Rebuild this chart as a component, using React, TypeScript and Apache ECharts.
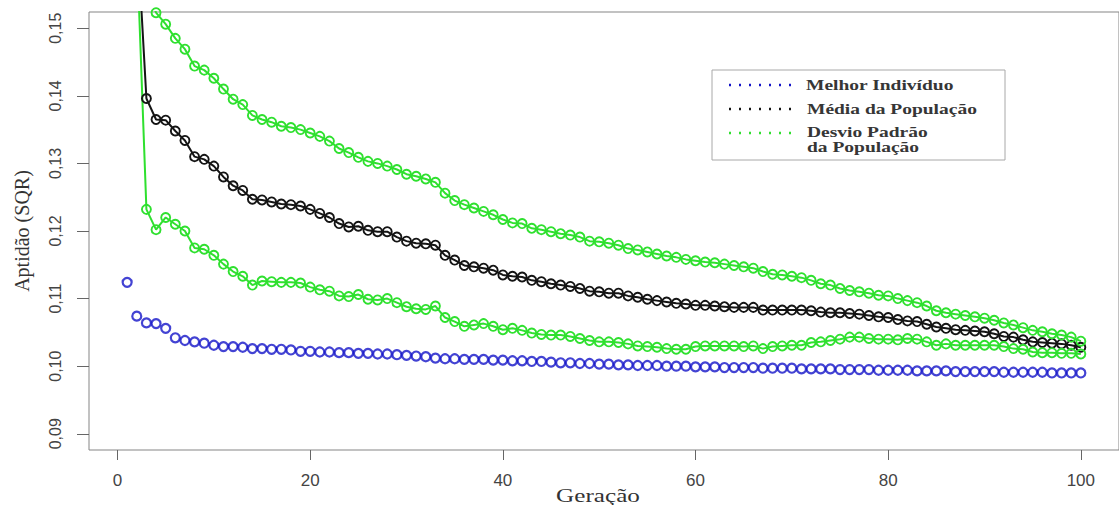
import React, { useEffect, useRef } from "react";
import * as echarts from "echarts";

// Generations 1..100 (x positions)
const generations: number[] = Array.from({ length: 100 }, (_, i) => i + 1);

const xTicks = [0, 20, 40, 60, 80, 100];
const yTicks = [0.09, 0.1, 0.11, 0.12, 0.13, 0.14, 0.15];

const melhor = [
  0.1124, 0.1074, 0.1064, 0.1063, 0.1056, 0.1042, 0.1038, 0.1036, 0.1034, 0.1031,
  0.1029, 0.1029, 0.1028, 0.1026, 0.1026, 0.1025, 0.1025, 0.1024, 0.1022, 0.1022,
  0.1021, 0.1021, 0.1020, 0.1020, 0.1019, 0.1019, 0.1018, 0.1018, 0.1017, 0.1016,
  0.1015, 0.1014, 0.1012, 0.1011, 0.1011, 0.1010, 0.1010, 0.1010, 0.1009, 0.1009,
  0.1008, 0.1008, 0.1007, 0.1007, 0.1006, 0.1005, 0.1005, 0.1004, 0.1004, 0.1003,
  0.1003, 0.1002, 0.1002, 0.1001, 0.1001, 0.1001, 0.1000, 0.1000, 0.1000, 0.0999,
  0.0999, 0.0999, 0.0998, 0.0998, 0.0998, 0.0998, 0.0997, 0.0997, 0.0997, 0.0997,
  0.0996, 0.0996, 0.0996, 0.0996, 0.0995, 0.0995, 0.0995, 0.0995, 0.0994, 0.0994,
  0.0994, 0.0994, 0.0993, 0.0993, 0.0993, 0.0993, 0.0992, 0.0992, 0.0992, 0.0992,
  0.0992, 0.0991, 0.0991, 0.0991, 0.0991, 0.0991, 0.0990, 0.0990, 0.0990, 0.0990,
];

const media = [
  0.1900, 0.1650, 0.1396, 0.1365, 0.1364, 0.1348, 0.1334, 0.1310, 0.1306, 0.1296,
  0.1280, 0.1267, 0.1260, 0.1247, 0.1246, 0.1243, 0.1240, 0.1239, 0.1237, 0.1232,
  0.1226, 0.1220, 0.1211, 0.1206, 0.1207, 0.1201, 0.1199, 0.1199, 0.1191, 0.1185,
  0.1182, 0.1181, 0.1179, 0.1164, 0.1157, 0.1149, 0.1147, 0.1145, 0.1142, 0.1135,
  0.1133, 0.1132, 0.1127, 0.1125, 0.1122, 0.1120, 0.1118, 0.1115, 0.1111, 0.1110,
  0.1108, 0.1108, 0.1104, 0.1102, 0.1099, 0.1097, 0.1095, 0.1093, 0.1092, 0.1090,
  0.1090, 0.1089, 0.1088, 0.1087, 0.1087, 0.1087, 0.1083, 0.1083, 0.1083, 0.1083,
  0.1083, 0.1082, 0.1080, 0.1079, 0.1079, 0.1078, 0.1077, 0.1075, 0.1073, 0.1072,
  0.1069, 0.1067, 0.1066, 0.1062, 0.1058, 0.1056, 0.1054, 0.1053, 0.1052, 0.1051,
  0.1048, 0.1044, 0.1043, 0.1039, 0.1036, 0.1035, 0.1034, 0.1033, 0.1031, 0.1028,
];

const desvioSup = [
  0.2100, 0.1680, 0.1560, 0.1523, 0.1506, 0.1485, 0.1469, 0.1444, 0.1438, 0.1426,
  0.1410, 0.1395, 0.1387, 0.1371, 0.1365, 0.1361, 0.1355, 0.1353, 0.1350, 0.1345,
  0.1340, 0.1333, 0.1322, 0.1316, 0.1309, 0.1303, 0.1300, 0.1296, 0.1291, 0.1284,
  0.1281, 0.1277, 0.1272, 0.1256, 0.1245, 0.1239, 0.1234, 0.1229, 0.1224, 0.1217,
  0.1212, 0.1211, 0.1204, 0.1202, 0.1199, 0.1196, 0.1194, 0.1191, 0.1185, 0.1184,
  0.1182, 0.1179, 0.1174, 0.1172, 0.1169, 0.1166, 0.1163, 0.1161, 0.1158, 0.1156,
  0.1154, 0.1153, 0.1151, 0.1149, 0.1147, 0.1145, 0.1140, 0.1136, 0.1135, 0.1133,
  0.1131, 0.1127, 0.1122, 0.1120, 0.1115, 0.1112, 0.1110, 0.1108, 0.1105, 0.1104,
  0.1100, 0.1097, 0.1094, 0.1089, 0.1082, 0.1079, 0.1077, 0.1075, 0.1073, 0.1071,
  0.1068, 0.1064, 0.1061, 0.1057, 0.1053, 0.1051, 0.1048, 0.1046, 0.1043, 0.1037,
];

const desvioInf = [
  0.1700, 0.1620, 0.1232, 0.1202, 0.1220, 0.1210, 0.1200, 0.1175, 0.1173, 0.1164,
  0.1151, 0.1140, 0.1133, 0.1120, 0.1126, 0.1125, 0.1124, 0.1124, 0.1123, 0.1117,
  0.1113, 0.1111, 0.1104, 0.1103, 0.1106, 0.1099, 0.1098, 0.1100, 0.1094, 0.1088,
  0.1085, 0.1084, 0.1089, 0.1072, 0.1066, 0.1059, 0.1061, 0.1063, 0.1059, 0.1054,
  0.1056, 0.1053, 0.1049, 0.1047, 0.1046, 0.1046, 0.1044, 0.1041, 0.1038, 0.1036,
  0.1036, 0.1035, 0.1033, 0.1030, 0.1029, 0.1028, 0.1026, 0.1025, 0.1025, 0.1029,
  0.1030, 0.1030, 0.1030, 0.1030, 0.1029, 0.1030, 0.1026, 0.1029, 0.1030, 0.1031,
  0.1031, 0.1035, 0.1036, 0.1038, 0.1040, 0.1043, 0.1043, 0.1041, 0.1040, 0.1040,
  0.1039, 0.1041, 0.1040, 0.1036, 0.1031, 0.1033, 0.1031, 0.1031, 0.1031, 0.1031,
  0.1031, 0.1029, 0.1026, 0.1025, 0.1021, 0.1020, 0.1020, 0.1019, 0.1019, 0.1018,
];

const legendLabels = ["Melhor Indivíduo", "Média da População", "Desvio Padrão\nda População"];
const xTitle = "Geração";
const yTitle = "Aptidão (SQR)";

const BLUE = "#1414c8";
const BLACK = "#141414";
const GREEN = "#2fe02f";

const pairs = (vals: number[]) => generations.map((g, i) => [g, vals[i]]);

const lineSeries = (name: string, vals: number[], color: string) => ({
  name,
  type: "line",
  data: pairs(vals),
  clip: true,
  symbol: "circle",
  symbolSize: 9,
  showSymbol: true,
  showAllSymbol: true,
  lineStyle: { color, width: 2 },
  itemStyle: { color: "rgba(0,0,0,0)", borderColor: color, borderWidth: 1.9 },
  emphasis: { disabled: true },
  silent: true,
});

const legendText = (text: string, x: number, y: number, extra: any = {}) => ({
  type: "text",
  z: 101,
  x,
  y,
  scaleX: 1.3,
  style: {
    text,
    fontFamily: "Liberation Serif",
    fontWeight: "bold",
    fontSize: 15,
    fill: "#363636",
    verticalAlign: "middle",
    ...extra,
  },
});

export default function App() {
  const ref = useRef<HTMLDivElement>(null);

  useEffect(() => {
    if (!ref.current) return;
    const chart = echarts.init(ref.current, null, { renderer: "svg" });
    const option: any = {
      animation: false,
      backgroundColor: "#ffffff",
      grid: {
        left: 89,
        top: 12,
        right: -17,
        bottom: 55,
        show: true,
        borderColor: "#858585",
        borderWidth: 1,
        backgroundColor: "transparent",
      },
      xAxis: {
        type: "value",
        min: -2.96,
        max: 103.96,
        axisLine: { show: false, onZero: false },
        splitLine: { show: false },
        axisTick: { show: true, length: 10, customValues: xTicks, lineStyle: { color: "#666", width: 1 } },
        axisLabel: {
          customValues: xTicks,
          margin: 22,
          color: "#444",
          fontFamily: "Liberation Sans",
          fontSize: 17,
        },
      },
      yAxis: {
        type: "value",
        min: 0.0876,
        max: 0.1524,
        axisLine: { show: false, onZero: false },
        splitLine: { show: false },
        axisTick: { show: true, length: 12, customValues: yTicks, lineStyle: { color: "#666", width: 1 } },
        axisLabel: {
          customValues: yTicks,
          rotate: 90,
          margin: 26,
          color: "#444",
          fontFamily: "Liberation Sans",
          fontSize: 16,
          formatter: (v: number) => v.toFixed(2).replace(".", ","),
        },
        name: yTitle,
        nameLocation: "middle",
        nameGap: 57,
        nameTextStyle: { fontFamily: "Liberation Serif", fontSize: 20, color: "#333" },
      },
      series: [
        {
          name: legendLabels[0],
          type: "scatter",
          data: pairs(melhor),
          symbol: "circle",
          symbolSize: 9,
          itemStyle: { color: "rgba(0,0,0,0)", borderColor: BLUE, borderWidth: 2.2 },
          emphasis: { disabled: true },
          silent: true,
        },
        lineSeries(legendLabels[1], media, BLACK),
        lineSeries("Desvio Padrão (superior)", desvioSup, GREEN),
        lineSeries("Desvio Padrão (inferior)", desvioInf, GREEN),
      ],
      graphic: [
        {
          type: "text",
          x: 598,
          y: 487,
          scaleX: 1.4,
          style: {
            text: xTitle,
            fontFamily: "Liberation Serif",
            fontSize: 18,
            fill: "#333",
            align: "center",
            verticalAlign: "top",
          },
        },
        {
          type: "rect",
          z: 100,
          shape: { x: 712, y: 70, width: 293, height: 90 },
          style: { fill: "#fff", stroke: "#a8a8a8", lineWidth: 1 },
        },
        {
          type: "line",
          z: 101,
          shape: { x1: 729, y1: 85, x2: 792, y2: 85 },
          style: { stroke: BLUE, lineWidth: 2.5, lineDash: [2, 8] },
        },
        {
          type: "line",
          z: 101,
          shape: { x1: 729, y1: 109, x2: 792, y2: 109 },
          style: { stroke: BLACK, lineWidth: 2.5, lineDash: [2, 8] },
        },
        {
          type: "line",
          z: 101,
          shape: { x1: 729, y1: 133, x2: 792, y2: 133 },
          style: { stroke: GREEN, lineWidth: 2.5, lineDash: [2, 8] },
        },
        legendText(legendLabels[0], 806, 85),
        legendText(legendLabels[1], 807, 109),
        legendText(legendLabels[2], 807, 125, { lineHeight: 15, verticalAlign: "top" }),
      ],
    };
    chart.setOption(option);
    return () => chart.dispose();
  }, []);

  return (
    <div
      ref={ref}
      style={{ position: "absolute", left: 0, top: 0, width: 1119, height: 505, background: "#fff" }}
    />
  );
}
